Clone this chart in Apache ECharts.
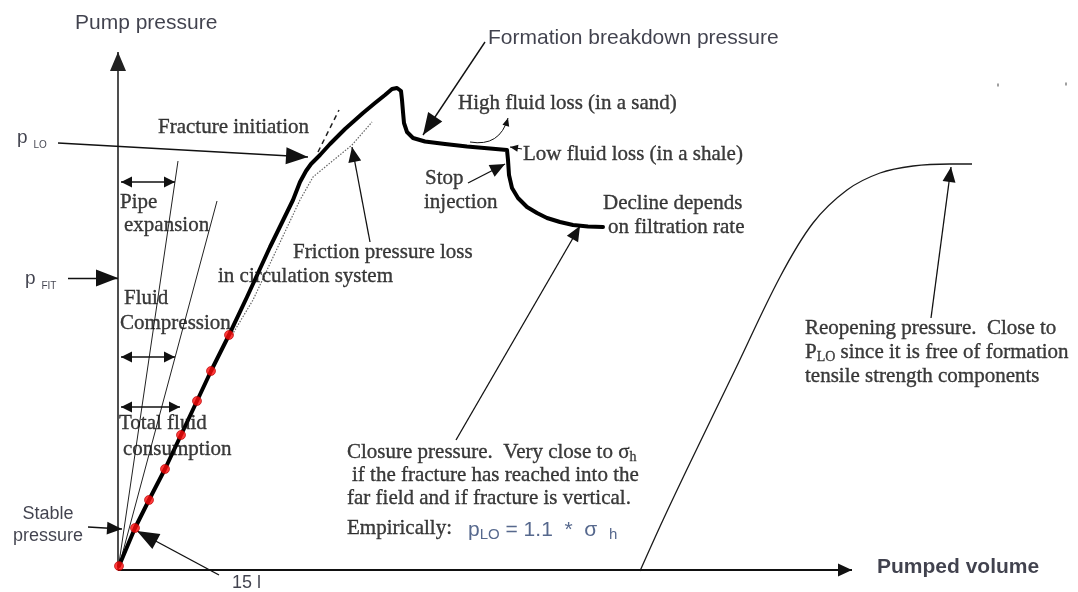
<!DOCTYPE html>
<html>
<head>
<meta charset="utf-8">
<script src="https://cdn.jsdelivr.net/npm/echarts/dist/echarts.min.js"></script>
<style>
  html, body { margin: 0; padding: 0; background: #fff; }
  #chart { width: 1078px; height: 592px; }
</style>
</head>
<body>
<div id="chart"></div>
<script>
// Leak-off test schematic: pump pressure against pumped volume (arbitrary units).

// Pressure build-up, breakdown, stop of injection and decline
const pumpingCurve = [
  [1, 4], [17, 42], [31, 70], [47, 101], [63, 135], [79, 169], [93, 199], [111, 235],
  [129, 273], [152, 323], [175, 370], [182, 388], [188, 399], [193, 406], [202, 415],
  [212, 426], [227, 441], [245, 457], [257, 467], [267, 475], [274, 481], [279, 482],
  [283, 479], [284, 470], [285, 458], [286, 447], [289, 438], [295, 432], [307, 428.5],
  [327, 426], [349, 423.5], [372, 421.5], [389, 420], [390, 410], [391, 395], [394, 382],
  [400, 372], [409, 363], [419, 357], [429, 352], [442, 348], [455, 345], [470, 343.5],
  [485, 343]
];
// Readings taken every 15 l along the linear part
const pumpSamples = [
  [1, 4], [17, 42], [31, 70], [47, 101], [63, 135], [79, 169], [93, 199], [111, 235]
];
// Curve shifted by the friction pressure loss in the circulation system
const frictionLine = [
  [114, 235], [135, 270], [157, 317], [182, 370], [195, 393], [212, 407], [234, 425], [254, 448]
];
// Tangent continuing the linear trend past fracture initiation
const initiationTangent = [[200, 418], [221, 460]];
// Limits for pipe expansion and fluid compression
const pipeExpansionLimit = [[0, 0], [60, 409]];
const compressionLimit = [[0, 0], [99, 369]];
// Second pumping cycle up to reopening pressure
const reopeningCurve = [
  [522, -1], [545, 50], [572, 107], [617, 200], [662, 293], [695, 347], [729, 380],
  [762, 397], [795, 404], [832, 406], [854, 406]
];
const faintMarks = [[880, 485], [948, 486]];

// Axis extents
const volumeAxisEnd = 734;
const pressureAxisEnd = 518;

// Annotation pointers: [tail, head]
const boldPointers = [
  [[-60, 427], [190, 413]],   // p LO -> fracture initiation
  [[-50, 292], [0, 292]],     // p FIT
  [[101, -5], [19, 39]],      // 15 l
  [[367, 528], [305, 435]]    // formation breakdown pressure
];
const lightPointers = [
  [[-30, 43], [4, 41]],       // stable pressure
  [[252, 328], [234, 423]],   // friction pressure loss
  [[350, 387], [387, 406]],   // stop injection
  [[338, 130], [462, 344]],   // closure pressure
  [[813, 252], [833, 403]]    // reopening pressure
];
const spanArrows = [
  [[3, 388], [57, 388]],      // pipe expansion
  [[3, 213], [57, 213]],      // fluid compression
  [[3, 163], [62, 163]]       // total fluid consumption
];
const smallPointers = [
  { from: [404, 421], to: [392, 423], bend: 0 },      // low fluid loss
  { from: [352, 428], to: [390, 452], bend: -0.45 }   // high fluid loss
];

const SERIF = '"Liberation Serif", "DejaVu Serif", serif';
const SANS = '"Liberation Sans", Arial, sans-serif';
const INK = '#0d0d0d';
const SANS_INK = '#111322';
const FORMULA_INK = '#2c4270';

// Text annotations: anchor (left-middle unless centred), content, face
const notes = [
  { at: [-43, 547], text: 'Pump pressure', face: 'sans' },
  { at: [370, 532], text: 'Formation breakdown pressure', face: 'sans' },
  { at: [759, 3], text: 'Pumped volume', face: 'sans', bold: true },
  { at: [-101, 432], text: '{pp|p} {tiny|LO}', face: 'sans' },
  { at: [-93, 291], text: '{pp|p} {tiny|FIT}', face: 'sans' },
  { at: [-70, 56], text: 'Stable', face: 'sans', center: true, size: 18 },
  { at: [-70, 34], text: 'pressure', face: 'sans', center: true, size: 18 },
  { at: [114, -13], text: '15 l', face: 'sans', size: 18 },
  { at: [350, 40], text: '{big|p}{sub|LO}{big| = 1.1  *  σ  }{sub|h}', face: 'formula' },

  { at: [40, 443], text: 'Fracture initiation' },
  { at: [340, 467], text: 'High fluid loss (in a sand)' },
  { at: [405, 416], text: 'Low fluid loss (in a shale)' },
  { at: [307, 392], text: 'Stop' },
  { at: [306, 368], text: 'injection' },
  { at: [485, 367], text: 'Decline depends' },
  { at: [490, 343], text: 'on filtration rate' },
  { at: [175, 318], text: 'Friction pressure loss' },
  { at: [100, 294], text: 'in circulation system' },
  { at: [2, 368], text: 'Pipe' },
  { at: [6, 345], text: 'expansion' },
  { at: [6, 272], text: 'Fluid' },
  { at: [2, 247], text: 'Compression' },
  { at: [1, 147], text: 'Total fluid' },
  { at: [5, 121], text: 'consumption' },
  { at: [229, 118], text: 'Closure pressure.  Very close to σ{ssub|h}' },
  { at: [234, 95], text: 'if the fracture has reached into the' },
  { at: [229, 72], text: 'far field and if fracture is vertical.' },
  { at: [229, 42], text: 'Empirically:' },
  { at: [687, 242], text: 'Reopening pressure.  Close to' },
  { at: [687, 218], text: 'P{ssub|LO} since it is free of formation' },
  { at: [687, 194], text: 'tensile strength components' }
];

// Filled triangular head whose tip sits on the line end point.
// Two invisible corner specks make the symbol box square and centred on the tip,
// so a single symbolSize of 2 * len keeps the proportions.
function head(len, half) {
  const s = len;
  return 'path://M' + (-s) + ',' + (-s) + 'L' + (-s + 0.01) + ',' + (-s) + 'Z' +
    'M' + s + ',' + s + 'L' + (s - 0.01) + ',' + s + 'Z' +
    'M0,0L' + half + ',' + len + 'L' + (-half) + ',' + len + 'Z';
}

function arrowSeries(pairs, len, half, width, both, extra) {
  const h = head(len, half);
  return Object.assign({
    type: 'lines', coordinateSystem: 'cartesian2d', silent: true, z: 4,
    symbol: [both ? h : 'none', h], symbolSize: 2 * len,
    lineStyle: { color: '#111', width: width, opacity: 1 },
    data: pairs
  }, extra || {});
}

function noteItem(n) {
  const sans = n.face === 'sans' || n.face === 'formula';
  const color = n.face === 'formula' ? FORMULA_INK : (sans ? SANS_INK : INK);
  const size = n.size || 21;
  return {
    value: n.at,
    label: {
      show: true,
      position: [0, 0],
      align: n.center ? 'center' : 'left',
      verticalAlign: 'middle',
      formatter: n.text,
      color: color,
      textBorderWidth: sans ? 0 : 0.35,
      textBorderColor: sans ? 'transparent' : color,
      fontFamily: sans ? SANS : SERIF,
      fontSize: size,
      fontWeight: n.bold ? 'bold' : 'normal',
      lineHeight: 24,
      rich: {
        big: { fontFamily: SANS, fontSize: 21, color: color, lineHeight: 24 },
        pp: { fontFamily: SANS, fontSize: 19, color: color, lineHeight: 24 },
        tiny: { fontFamily: SANS, fontSize: 10, color: color, verticalAlign: 'bottom', lineHeight: 18 },
        sub: { fontFamily: SANS, fontSize: 15, color: color, verticalAlign: 'bottom', lineHeight: 20 },
        ssub: { fontFamily: SERIF, fontSize: 14, color: color, verticalAlign: 'bottom', lineHeight: 20,
                textBorderWidth: 0.3, textBorderColor: color }
      }
    }
  };
}

const chart = echarts.init(document.getElementById('chart'), null, { renderer: 'canvas' });

chart.setOption({
  animation: false,
  backgroundColor: '#ffffff',
  grid: { left: 0, right: 0, top: 0, bottom: 0, containLabel: false },
  xAxis: { type: 'value', min: -118, max: 960, show: false },
  yAxis: { type: 'value', min: -22, max: 570, show: false },
  series: [
    // axes with arrow heads
    arrowSeries([{ coords: [[0, 0], [0, pressureAxisEnd]] }], 19, 8, 1.6, false,
      { lineStyle: { color: '#222', width: 1.6, opacity: 1 }, z: 3 }),
    arrowSeries([{ coords: [[0, 0], [volumeAxisEnd, 0]] }], 14, 6.5, 2, false,
      { lineStyle: { color: '#111', width: 2, opacity: 1 }, z: 3 }),
    // fan of limit lines from the origin
    {
      type: 'line', data: pipeExpansionLimit, symbol: 'none', silent: true, z: 2,
      lineStyle: { color: '#222', width: 1 }
    },
    {
      type: 'line', data: compressionLimit, symbol: 'none', silent: true, z: 2,
      lineStyle: { color: '#222', width: 1 }
    },
    // friction-corrected curve
    {
      type: 'line', data: frictionLine, symbol: 'none', silent: true, z: 2,
      lineStyle: { color: '#666', width: 1.2, type: [1.5, 1.5] }
    },
    // extrapolated linear trend
    {
      type: 'line', data: initiationTangent, symbol: 'none', silent: true, z: 2,
      lineStyle: { color: '#222', width: 1.5, type: [5, 4] }
    },
    // main pumping curve
    {
      type: 'line', data: pumpingCurve, symbol: 'none', silent: true, z: 5,
      lineStyle: { color: '#000', width: 4, join: 'round', cap: 'round' }
    },
    // reopening cycle
    {
      type: 'line', data: reopeningCurve, symbol: 'none', smooth: 0.35, silent: true, z: 2,
      lineStyle: { color: '#1a1a1a', width: 1.3 }
    },
    // 15 l readings
    {
      type: 'scatter', data: pumpSamples, symbol: 'circle', symbolSize: 9, silent: true, z: 6,
      itemStyle: { color: '#ff0a0a', borderColor: '#b00000', borderWidth: 0.8 }
    },
    {
      type: 'scatter', data: faintMarks, symbol: 'rect', symbolSize: [2, 3], silent: true, z: 2,
      itemStyle: { color: '#888' }
    },
    // annotation pointers
    arrowSeries(boldPointers.map(a => ({ coords: a })), 22, 8.5, 1.4, false),
    arrowSeries(lightPointers.map(a => ({ coords: a })), 15, 6.5, 1.3, false),
    arrowSeries(spanArrows.map(a => ({ coords: a })), 11, 5.5, 1.6, true),
    arrowSeries(smallPointers.map(p => ({ coords: [p.from, p.to], lineStyle: { curveness: p.bend } })),
      8, 3.5, 1, false),
    // text annotations
    {
      type: 'scatter', symbolSize: 0, silent: true, z: 10,
      data: notes.map(noteItem)
    }
  ]
});
</script>
</body>
</html>
